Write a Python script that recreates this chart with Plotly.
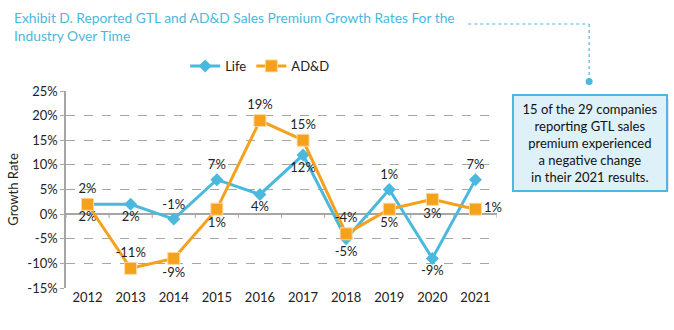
import plotly.graph_objects as go

years = ["2012", "2013", "2014", "2015", "2016", "2017", "2018", "2019", "2020", "2021"]
life = [2, 2, -1, 7, 4, 12, -5, 5, -9, 7]
add = [2, -11, -9, 1, 19, 15, -4, 1, 3, 1]
life_labels = ["2%", "2%", "-1%", "7%", "4%", "12%", "-5%", "1%", "-9%", "7%"]
add_labels = ["2%", "-11%", "-9%", "1%", "19%", "15%", "-4%", "5%", "3%", "1%"]
life_pos = ["bottom center", "bottom center", "top center", "top center", "bottom center",
            "bottom center", "bottom center", "top center", "bottom center", "top center"]
add_pos = ["top center", "top center", "bottom center", "bottom center", "top center",
           "top center", "top center", "bottom center", "bottom center", "middle right"]
yticks = [-15, -10, -5, 0, 5, 10, 15, 20, 25]

LIFE_C = "#4BB8DD"
ADD_C = "#F5A11C"
GRID = "#A6A6A6"
FONT = "Lato"

fig = go.Figure()
fig.add_trace(go.Scatter(
    x=years, y=life, name="Life", mode="lines+markers+text",
    line=dict(color=LIFE_C, width=3), marker=dict(symbol="diamond", size=10, color=LIFE_C),
    text=life_labels, textposition=life_pos, textfont=dict(size=13, color="#222", family=FONT),
    cliponaxis=False))
fig.add_trace(go.Scatter(
    x=years, y=add, name="AD&D", mode="lines+markers+text",
    line=dict(color=ADD_C, width=3), marker=dict(symbol="square", size=12, color=ADD_C,
                                                 line=dict(color="#FCD9A0", width=1)),
    text=add_labels, textposition=add_pos, textfont=dict(size=13, color="#222", family=FONT),
    cliponaxis=False))

W, H = 674, 330
ml, mr, mt, mb = 62, 177, 91, 42


def px(x):
    return (x - ml) / (W - ml - mr)


def py(y):
    return (H - mb - y) / (H - mt - mb)


# tick marks along the zero line at category boundaries
for i in range(len(years) + 1):
    fig.add_shape(type="line", xref="x", yref="y", x0=i - 0.5, x1=i - 0.5, y0=0, y1=-0.8,
                  line=dict(color=GRID, width=1))

# connector from title to box
fig.add_shape(type="line", xref="paper", yref="paper", x0=px(468), x1=px(590), y0=py(24), y1=py(24),
              line=dict(color=LIFE_C, width=1.2, dash="dot"))
fig.add_shape(type="line", xref="paper", yref="paper", x0=px(590), x1=px(590), y0=py(24), y1=py(81),
              line=dict(color=LIFE_C, width=1.2, dash="dot"))
fig.add_shape(type="circle", xref="paper", yref="paper", x0=px(586.5), x1=px(593.5), y0=py(78), y1=py(85),
              line=dict(color=LIFE_C, width=0), fillcolor=LIFE_C)
# shadow behind box
fig.add_shape(type="rect", xref="paper", yref="paper", x0=px(516), x1=px(670), y0=py(99), y1=py(191),
              line=dict(width=0), fillcolor="rgba(120,120,120,0.45)", layer="below")

fig.add_annotation(
    xref="paper", yref="paper", x=px(590.5), y=py(142.5), xanchor="center", yanchor="middle",
    text="15 of the 29 companies<br>reporting GTL sales<br>premium experienced<br>a negative change<br>in their 2021 results.",
    showarrow=False, align="center", font=dict(size=13, color="#111", family=FONT),
    bgcolor="#DFF1F8", bordercolor=LIFE_C, borderwidth=2, borderpad=5, width=142)

fig.add_annotation(
    xref="paper", yref="paper", x=px(7), y=py(7), xanchor="left", yanchor="top",
    text="Exhibit D. Reported GTL and AD&D Sales Premium Growth Rates For the<br>Industry Over Time",
    showarrow=False, align="left", font=dict(size=13.8, color=LIFE_C, family=FONT))

fig.update_layout(
    width=W, height=H, margin=dict(l=ml, r=mr, t=mt, b=mb),
    paper_bgcolor="white", plot_bgcolor="white",
    font=dict(family=FONT, size=13, color="#222"),
    showlegend=True,
    legend=dict(orientation="h", x=px(258), y=py(66), xanchor="center", yanchor="middle",
                font=dict(size=13, family=FONT), itemwidth=30, tracegroupgap=0),
    xaxis=dict(type="category", range=[-0.5, 9.5], showgrid=False, showline=False, ticks="",
               tickfont=dict(size=13), zeroline=False),
    yaxis=dict(range=[-15, 25], tickvals=yticks, ticktext=[f"{v}%" for v in yticks],
               showgrid=True, gridcolor=GRID, griddash="dash", gridwidth=1,
               zeroline=True, zerolinecolor=GRID, zerolinewidth=1.5,
               showline=True, linecolor=GRID, linewidth=1.5, ticks="outside", ticklen=4, tickcolor=GRID,
               tickfont=dict(size=13),
               title=dict(text="Growth Rate", font=dict(size=13), standoff=6)),
)

fig.write_html("out.html")
